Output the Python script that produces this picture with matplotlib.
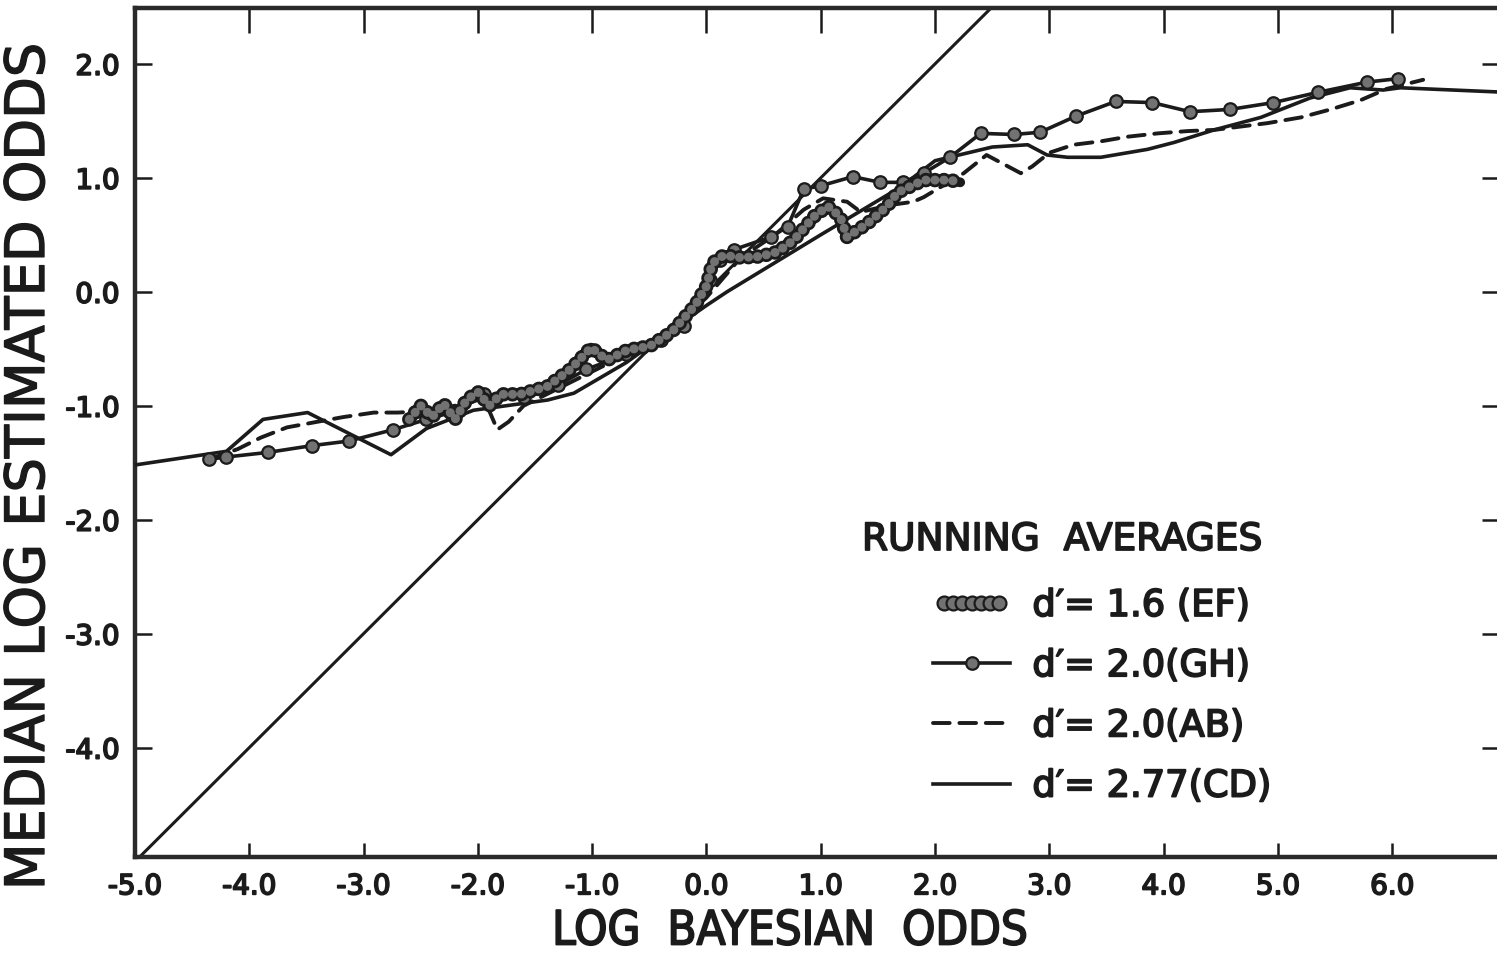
import matplotlib
matplotlib.use("Agg")
import matplotlib.pyplot as plt
from matplotlib.lines import Line2D
from matplotlib.legend_handler import HandlerLine2D
import matplotlib.patheffects as pe

plt.rcParams['font.family'] = ['DejaVu Sans']
plt.rcParams['axes.unicode_minus'] = False
plt.rcParams['lines.scale_dashes'] = False

# ---------------- data ----------------
# identity (diagonal) line
diag_x = [-5.0, 2.6]
diag_y = [-5.0, 2.6]

# d' = 1.6 (EF)  -- thick beaded line
ef_x = [-2.6, -2.5, -2.4, -2.3, -2.2, -2.1, -2.0, -1.9, -1.8, -1.63, -1.39, -1.19,
        -1.01, -0.87, -0.69, -0.5, -0.3, -0.1, 0.0, 0.05, 0.15, 0.3, 0.47, 0.62,
        0.76, 0.94, 1.06, 1.17, 1.23, 1.41, 1.58, 1.67, 1.9, 2.13, 2.22]
ef_y = [-1.12, -1.0, -1.1, -0.98, -1.12, -0.95, -0.88, -1.0, -0.9, -0.9, -0.83, -0.68,
        -0.49, -0.6, -0.51, -0.48, -0.35, -0.12, 0.05, 0.25, 0.32, 0.3, 0.31, 0.35,
        0.45, 0.66, 0.75, 0.66, 0.48, 0.6, 0.75, 0.87, 0.98, 0.98, 0.96]

# d' = 2.0 (GH)  -- solid line with dots
gh_x = [-4.35, -4.2, -3.84, -3.45, -3.13, -2.74, -2.45, -2.2, -1.95, -1.6, -1.3,
        -1.05, -0.7, -0.4, -0.2, 0.03, 0.12, 0.24, 0.56, 0.71, 0.85, 1.0, 1.28,
        1.52, 1.72, 1.9, 2.13, 2.4, 2.69, 2.92, 3.23, 3.58, 3.9, 4.23, 4.58, 4.96,
        5.35, 5.78, 6.05]
gh_y = [-1.47, -1.45, -1.41, -1.35, -1.31, -1.21, -1.12, -1.05, -0.9, -0.92, -0.82,
        -0.68, -0.55, -0.42, -0.3, 0.1, 0.28, 0.37, 0.48, 0.57, 0.9, 0.93, 1.01,
        0.96, 0.96, 1.04, 1.18, 1.39, 1.38, 1.40, 1.54, 1.67, 1.66, 1.58, 1.60, 1.66,
        1.75, 1.84, 1.87]

# d' = 2.0 (AB)  -- dashed line
ab_x = [-4.35, -4.1, -3.9, -3.67, -3.4, -3.18, -2.91, -2.7, -2.5, -2.2, -2.0, -1.92,
        -1.83, -1.73, -1.6, -1.2, -0.8, -0.4, 0.0, 0.3, 0.6, 0.85, 1.02, 1.23, 1.35,
        1.6, 1.81, 1.9, 2.25, 2.45, 2.6, 2.75, 2.85, 3.0, 3.21, 3.45, 3.68, 3.95,
        4.21, 4.44, 4.91, 5.2, 5.46, 5.72, 5.95, 6.27]
ab_y = [-1.47, -1.38, -1.28, -1.19, -1.14, -1.10, -1.06, -1.06, -1.05, -1.0, -0.95, -1.0,
        -1.21, -1.14, -1.0, -0.8, -0.6, -0.42, -0.05, 0.3, 0.5, 0.72, 0.82, 0.79, 0.70,
        0.76, 0.79, 0.83, 1.04, 1.2, 1.12, 1.04, 1.1, 1.22, 1.29, 1.32, 1.36, 1.39,
        1.41, 1.42, 1.48, 1.53, 1.6, 1.68, 1.78, 1.86]

# d' = 2.77 (CD)  -- plain solid line
cd_x = [-5.0, -4.2, -3.88, -3.49, -2.76, -2.45, -2.04, -1.39, -1.16, -0.7, -0.3,
        0.0, 0.18, 1.0, 1.7, 2.0, 2.5, 2.81, 2.98, 3.16, 3.45, 3.86, 4.09, 4.44,
        4.85, 5.28, 5.63, 5.92, 6.07, 7.0]
cd_y = [-1.52, -1.40, -1.12, -1.06, -1.43, -1.2, -1.04, -0.95, -0.89, -0.62, -0.33,
        -0.12, 0.0, 0.5, 0.92, 1.15, 1.27, 1.29, 1.2, 1.18, 1.18, 1.25, 1.31, 1.42,
        1.53, 1.70, 1.79, 1.77, 1.79, 1.75]

x_ticks = [-5.0, -4.0, -3.0, -2.0, -1.0, 0.0, 1.0, 2.0, 3.0, 4.0, 5.0, 6.0]
x_ticklabels = ["-5.0", "-4.0", "-3.0", "-2.0", "-1.0", "0.0", "1.0", "2.0",
                "3.0", "4.0", "5.0", "6.0"]
y_ticks = [-4.0, -3.0, -2.0, -1.0, 0.0, 1.0, 2.0]
y_ticklabels = ["-4.0", "-3.0", "-2.0", "-1.0", "0.0", "1.0", "2.0"]

legend_title = "RUNNING  AVERAGES"
labels = ["d\u2032= 1.6 (EF)", "d\u2032= 2.0(GH)", "d\u2032= 2.0(AB)", "d\u2032= 2.77(CD)"]

# ---------------- figure ----------------
W, H, DPI = 1497, 964, 100
fig = plt.figure(figsize=(W / DPI, H / DPI), dpi=DPI)
fig.patch.set_facecolor('white')

left_px, right_px, top_px, bottom_px = 135, 1506.6, 8, 857
ax = fig.add_axes([left_px / W, 1 - bottom_px / H,
                   (right_px - left_px) / W, (bottom_px - top_px) / H])
ax.set_xlim(-5.0, 7.0)
ax.set_ylim(-4.96, 2.49)

ink = '#1b1b1b'
bead_fill = '#727272'
bold = [pe.withStroke(linewidth=1.3, foreground=ink)]
bold_big = [pe.withStroke(linewidth=1.0, foreground=ink)]

# diagonal
ax.plot(diag_x, diag_y, color=ink, lw=2.2, zorder=2)

# CD solid
l_cd, = ax.plot(cd_x, cd_y, color=ink, lw=2.6, solid_joinstyle='round', zorder=3)

# AB dashed
l_ab, = ax.plot(ab_x, ab_y, color=ink, lw=2.8, linestyle=(0, (12, 7)),
                dash_capstyle='round', zorder=3)

# GH solid with dots
l_gh, = ax.plot(gh_x, gh_y, color=ink, lw=2.6, marker='o', markersize=9,
                markerfacecolor=bead_fill, markeredgecolor=ink, markeredgewidth=1.6,
                zorder=4)

# EF beaded thick line
period = 6.5
ax.plot(ef_x, ef_y, color=ink, lw=7, solid_joinstyle='round',
        solid_capstyle='round', zorder=5)
ax.plot(ef_x, ef_y, color=ink, lw=10.5, linestyle=(0, (0.1, period - 0.1)),
        dash_capstyle='round', zorder=5)
ax.plot(ef_x, ef_y, color=bead_fill, lw=6.5, linestyle=(0, (0.1, period - 0.1)),
        dash_capstyle='round', zorder=6)

# legend proxy for the beaded line
ef_proxy = Line2D([], [], color=ink, lw=6, marker='o', markersize=10,
                  markerfacecolor=bead_fill, markeredgecolor=ink, markeredgewidth=1.6)

# spines
for s in ax.spines.values():
    s.set_linewidth(3.2)
    s.set_color('#2a2a2a')

ax.set_xticks(x_ticks)
ax.set_xticklabels(x_ticklabels)
ax.set_yticks(y_ticks)
ax.set_yticklabels(y_ticklabels)
ax.tick_params(axis='x', which='both', direction='in', bottom=True, top=True,
               labelsize=20, pad=11, width=1.8, length=10, color=ink, labelcolor=ink)
ax.tick_params(axis='y', which='both', direction='in', left=True, right=True,
               labelsize=20, pad=11, width=1.8, length=12, color=ink, labelcolor=ink)
for t in ax.xaxis.get_major_ticks():
    t.tick2line.set_markersize(18)
for t in ax.yaxis.get_major_ticks():
    t.tick2line.set_markersize(18)
for lbl in ax.get_xticklabels() + ax.get_yticklabels():
    lbl.set_path_effects(bold)

# axis labels
fig.text(790 / W, 1 - 932 / H, "LOG  BAYESIAN  ODDS", ha='center', va='center',
         fontsize=34, color=ink, fontstretch='condensed', path_effects=bold)
fig.text(29 / W, 1 - 467 / H, "MEDIAN LOG ESTIMATED ODDS", ha='center', va='center',
         rotation=90, fontsize=39, color=ink, path_effects=bold_big)

# legend
ax.text((862 - left_px) / (right_px - left_px), (bottom_px - 540) / (bottom_px - top_px),
        legend_title, transform=ax.transAxes, ha='left', va='center',
        fontsize=27, color=ink, path_effects=bold)
leg = ax.legend([ef_proxy, l_gh, l_ab, l_cd], labels,
                handler_map={ef_proxy: HandlerLine2D(numpoints=7)},
                loc='upper left',
                bbox_to_anchor=((933 - left_px) / (right_px - left_px),
                                (bottom_px - 587) / (bottom_px - top_px)),
                frameon=False, fontsize=26.5, numpoints=1, handlelength=2.1,
                handletextpad=0.6, labelspacing=0.63, borderpad=0, borderaxespad=0)
for t in leg.get_texts():
    t.set_color(ink)
    t.set_path_effects(bold)

fig.savefig("out.png", dpi=DPI)
